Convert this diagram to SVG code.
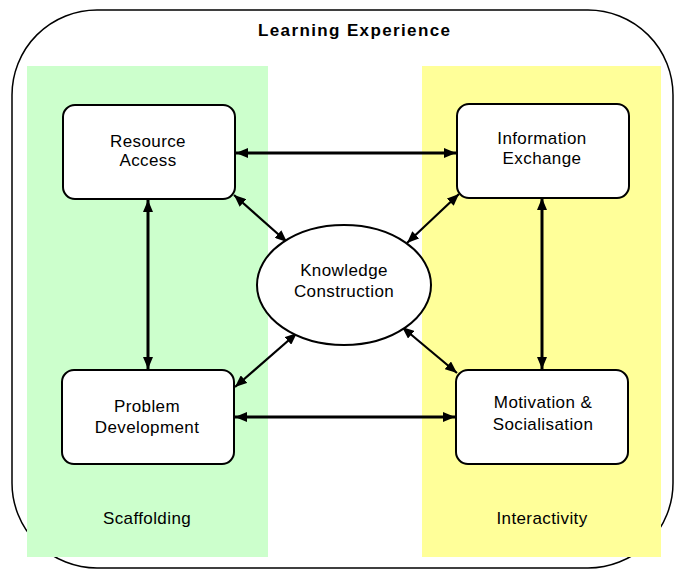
<svg xmlns="http://www.w3.org/2000/svg" width="674" height="572" viewBox="0 0 674 572">
<defs>
<style>
.t{font-family:"Liberation Sans",Arial,sans-serif;font-size:17px;letter-spacing:0.4px;fill:#000;text-anchor:middle}
.title{font-family:"Liberation Sans",Arial,sans-serif;font-size:17px;font-weight:bold;fill:#000;text-anchor:middle}
.box{fill:#fff;stroke:#000;stroke-width:2}
.thick{stroke:#000;stroke-width:3;fill:none;marker-start:url(#a);marker-end:url(#a)}
.thin{stroke:#000;stroke-width:2.2;fill:none;marker-start:url(#b);marker-end:url(#b)}
</style>
<marker id="a" viewBox="0 0 12 10" refX="12" refY="5" markerWidth="12" markerHeight="10" markerUnits="userSpaceOnUse" orient="auto-start-reverse">
<path d="M0,0 L12,5 L0,10 z" fill="#000"/>
</marker>
<marker id="b" viewBox="0 0 12 10" refX="12" refY="5" markerWidth="12" markerHeight="10" markerUnits="userSpaceOnUse" orient="auto-start-reverse">
<path d="M0,0 L12,5 L0,10 z" fill="#000"/>
</marker>
</defs>
<rect width="674" height="572" fill="#fff"/>
<g id="outer">
<rect x="12" y="10" width="661" height="558" rx="85" ry="85" fill="none" stroke="#000" stroke-width="1.5"/>
<text class="title" x="354" y="36" textLength="192" lengthAdjust="spacing">Learning Experience</text>
</g>
<g id="scaffolding">
<rect x="27" y="66" width="241" height="491" fill="#ccffcc"/>
<text class="t" x="147" y="524">Scaffolding</text>
</g>
<g id="interactivity">
<rect x="422" y="66" width="239" height="491" fill="#ffff99"/>
<text class="t" x="542" y="524">Interactivity</text>
</g>
<g id="connectors">
<line class="thick" x1="236" y1="153" x2="456" y2="153"/>
<line class="thick" x1="235" y1="417" x2="455" y2="417"/>
<line class="thick" x1="148" y1="200" x2="148" y2="369"/>
<line class="thick" x1="542" y1="198" x2="542" y2="369"/>
<line class="thin" x1="234" y1="195" x2="287" y2="242"/>
<line class="thin" x1="459" y1="194" x2="407" y2="243"/>
<line class="thin" x1="235" y1="387" x2="297" y2="333"/>
<line class="thin" x1="457" y1="373" x2="402" y2="327"/>
</g>
<g id="resource-access">
<rect class="box" x="63" y="105" width="172" height="94" rx="12"/>
<text class="t" x="148" y="147">Resource</text>
<text class="t" x="148" y="166">Access</text>
</g>
<g id="information-exchange">
<rect class="box" x="457" y="104" width="172" height="94" rx="12"/>
<text class="t" x="542" y="144">Information</text>
<text class="t" x="542" y="164">Exchange</text>
</g>
<g id="problem-development">
<rect class="box" x="62" y="370" width="172" height="94" rx="12"/>
<text class="t" x="147" y="412">Problem</text>
<text class="t" x="147" y="433">Development</text>
</g>
<g id="motivation-socialisation">
<rect class="box" x="456" y="370" width="172" height="94" rx="12"/>
<text class="t" x="543" y="408">Motivation &amp;</text>
<text class="t" x="543" y="430">Socialisation</text>
</g>
<g id="knowledge-construction">
<ellipse class="box" cx="344" cy="285" rx="87" ry="60"/>
<text class="t" x="344" y="276">Knowledge</text>
<text class="t" x="344" y="297">Construction</text>
</g>
</svg>
